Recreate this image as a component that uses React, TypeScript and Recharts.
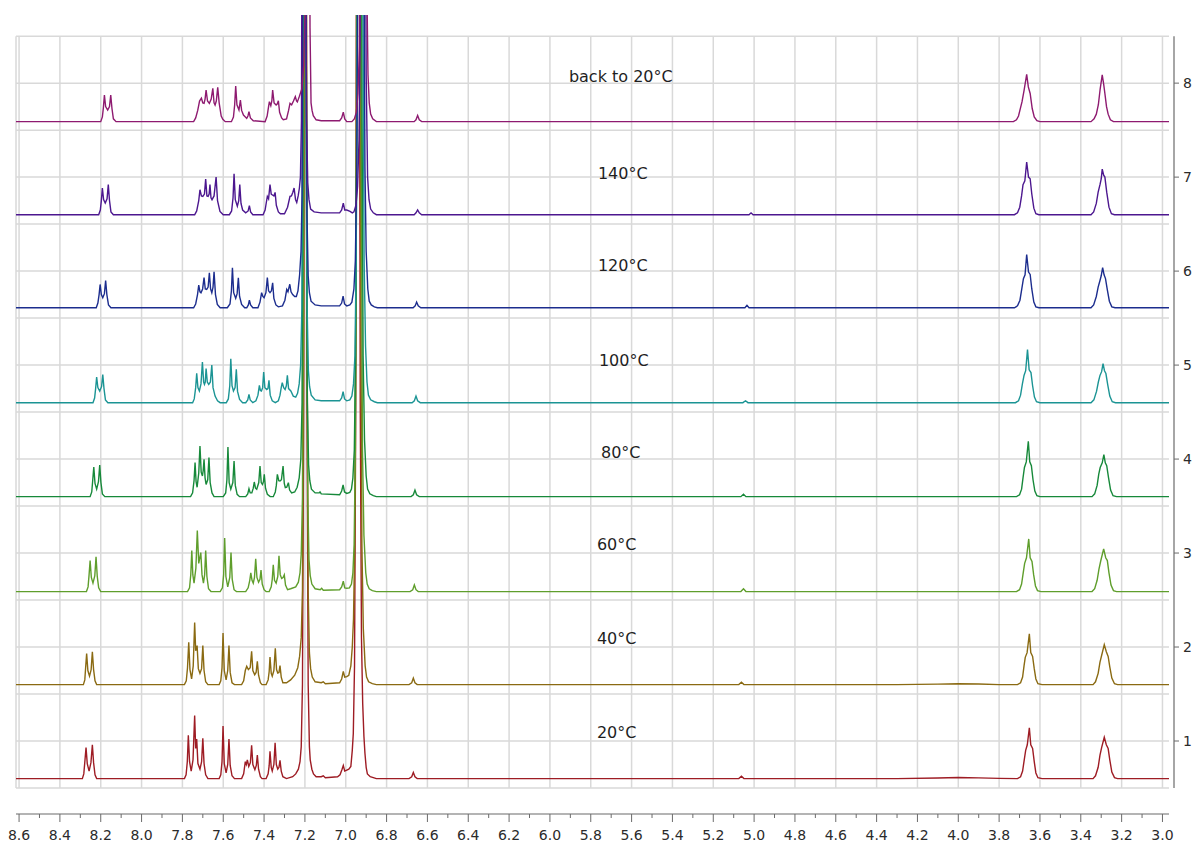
import React from 'react';
import { LineChart, Line, XAxis, YAxis, CartesianGrid, ReferenceLine, ReferenceDot } from 'recharts';

type Pt = [number, number];

// ---- tick labels ----
const xMajorTicks = [8.6, 8.4, 8.2, 8.0, 7.8, 7.6, 7.4, 7.2, 7.0, 6.8, 6.6, 6.4, 6.2, 6.0, 5.8, 5.6, 5.4, 5.2, 5.0, 4.8, 4.6, 4.4, 4.2, 4.0, 3.8, 3.6, 3.4, 3.2, 3.0];
const xMinorTicks = [8.5, 8.3, 8.1, 7.9, 7.7, 7.5, 7.3, 7.1, 6.9, 6.7, 6.5, 6.3, 6.1, 5.9, 5.7, 5.5, 5.3, 5.1, 4.9, 4.7, 4.5, 4.3, 4.1, 3.9, 3.7, 3.5, 3.3, 3.1];
const yTicks = [1, 2, 3, 4, 5, 6, 7, 8];
const gridLevels = [0.5, 1, 1.5, 2, 2.5, 3, 3.5, 4, 4.5, 5, 5.5, 6, 6.5, 7, 7.5, 8, 8.5];

// ---- series meta ----
const spectrumNames = ['20°C', '40°C', '60°C', '80°C', '100°C', '120°C', '140°C', 'back to 20°C'];
const baselineOffsets = [0.6, 1.6, 2.59, 3.6, 4.6, 5.61, 6.6, 7.59];
const lineColors = ['#9e1c24', '#8a6a12', '#5f9e2c', '#17893a', '#1b9494', '#1c2d8e', '#4c178f', '#8e1a70'];
const labelPpm = [5.77, 5.77, 5.77, 5.75, 5.76, 5.765, 5.765, 5.907];
const labelLevel = [1.1, 2.1, 3.1, 4.07, 5.05, 6.07, 7.04, 8.074];

// ---- spectra: [ppm, intensity above baseline] ----
const spec20: Pt[] = [
  [8.615, 0], [8.29, 0], [8.283, 0.05], [8.277, 0.2], [8.272, 0.33], [8.266, 0.16], [8.257, 0.08], [8.248, 0.17], [8.241, 0.36], [8.235, 0.17], [8.228, 0.04], [8.22, 0],
  [7.79, 0], [7.782, 0.04], [7.776, 0.18], [7.771, 0.46], [7.765, 0.18], [7.757, 0.08], [7.748, 0.2], [7.74, 0.67], [7.735, 0.32], [7.73, 0.42], [7.724, 0.16], [7.714, 0.1], [7.706, 0.18], [7.7, 0.43], [7.694, 0.16], [7.686, 0.04], [7.675, 0],
  [7.62, 0], [7.612, 0.04], [7.606, 0.18], [7.601, 0.56], [7.595, 0.16], [7.586, 0.06], [7.578, 0.15], [7.572, 0.42], [7.566, 0.14], [7.557, 0.03], [7.545, 0],
  [7.51, 0], [7.5, 0.05], [7.492, 0.18], [7.487, 0.15], [7.482, 0.2], [7.475, 0.13], [7.467, 0.17], [7.461, 0.355], [7.455, 0.15], [7.445, 0.095], [7.438, 0.14], [7.433, 0.25], [7.427, 0.1], [7.418, 0.02], [7.41, 0],
  [7.39, 0], [7.38, 0.05], [7.375, 0.14], [7.371, 0.29], [7.365, 0.12], [7.36, 0.08], [7.352, 0.15], [7.346, 0.38], [7.34, 0.15], [7.333, 0.1], [7.327, 0.12], [7.322, 0.195], [7.316, 0.08], [7.308, 0.02], [7.29, 0],
  [7.26, 0.02], [7.245, 0.05], [7.232, 0.1], [7.224, 0.18], [7.218, 0.34], [7.212, 1.0], [7.206, 4], [7.201, 12], [7.195, 12], [7.19, 4], [7.184, 1.0], [7.178, 0.34], [7.174, 0.2], [7.166, 0.1], [7.158, 0.05], [7.145, 0.02], [7.12, 0.02], [7.11, 0.03], [7.1, 0.01],
  [7.04, 0.02], [7.028, 0.04], [7.018, 0.1], [7.012, 0.14], [7.005, 0.08], [6.995, 0.09], [6.985, 0.1], [6.975, 0.13], [6.968, 0.3], [6.963, 0.48], [6.957, 1.2], [6.951, 4], [6.946, 10], [6.94, 13], [6.934, 10], [6.929, 4], [6.923, 1.5], [6.917, 0.8], [6.911, 0.45], [6.906, 0.27], [6.9, 0.12], [6.894, 0.05], [6.88, 0.02], [6.85, 0],
  [6.69, 0], [6.677, 0.02], [6.669, 0.065], [6.661, 0.02], [6.65, 0],
  [5.075, 0], [5.062, 0.025], [5.05, 0],
  [4.3, 0], [4.1, 0.006], [4.0, 0.012], [3.9, 0.008], [3.8, 0.002],
  [3.71, 0], [3.695, 0.02], [3.685, 0.08], [3.677, 0.2], [3.67, 0.3], [3.662, 0.36], [3.652, 0.54], [3.645, 0.36], [3.636, 0.32], [3.628, 0.18], [3.62, 0.06], [3.61, 0.01], [3.59, 0],
  [3.34, 0], [3.328, 0.03], [3.315, 0.12], [3.306, 0.25], [3.298, 0.33], [3.285, 0.44], [3.275, 0.36], [3.266, 0.32], [3.258, 0.2], [3.248, 0.07], [3.235, 0.01], [3.22, 0], [2.968, 0],
];

const spec40: Pt[] = [
  [8.615, 0], [8.285, 0], [8.278, 0.05], [8.274, 0.18], [8.269, 0.33], [8.263, 0.15], [8.255, 0.09], [8.247, 0.16], [8.241, 0.35], [8.235, 0.16], [8.228, 0.04], [8.22, 0],
  [7.79, 0], [7.781, 0.04], [7.775, 0.18], [7.769, 0.45], [7.763, 0.16], [7.755, 0.06], [7.747, 0.2], [7.74, 0.66], [7.735, 0.36], [7.728, 0.415], [7.722, 0.17], [7.714, 0.12], [7.706, 0.17], [7.7, 0.415], [7.694, 0.15], [7.686, 0.03], [7.675, 0],
  [7.62, 0], [7.612, 0.04], [7.606, 0.18], [7.601, 0.55], [7.595, 0.15], [7.586, 0.05], [7.578, 0.15], [7.572, 0.415], [7.566, 0.13], [7.557, 0.02], [7.545, 0],
  [7.51, 0], [7.5, 0.04], [7.492, 0.15], [7.485, 0.195], [7.477, 0.16], [7.468, 0.18], [7.461, 0.354], [7.455, 0.15], [7.446, 0.106], [7.439, 0.13], [7.433, 0.248], [7.427, 0.1], [7.418, 0.02], [7.41, 0],
  [7.39, 0], [7.38, 0.05], [7.375, 0.14], [7.371, 0.294], [7.365, 0.12], [7.36, 0.09], [7.352, 0.15], [7.345, 0.386], [7.339, 0.16], [7.333, 0.124], [7.327, 0.13], [7.322, 0.202], [7.316, 0.08], [7.308, 0.02], [7.29, 0.02],
  [7.27, 0.05], [7.25, 0.1], [7.235, 0.18], [7.226, 0.3], [7.218, 0.5], [7.212, 1.0], [7.206, 4], [7.201, 12], [7.195, 12], [7.19, 4], [7.184, 1.0], [7.178, 0.34], [7.172, 0.17], [7.164, 0.08], [7.15, 0.03], [7.12, 0.02], [7.11, 0.03], [7.1, 0.01],
  [7.03, 0.02], [7.02, 0.06], [7.012, 0.14], [7.005, 0.08], [6.995, 0.085], [6.985, 0.1], [6.975, 0.2], [6.968, 0.4], [6.962, 0.7], [6.956, 1.5], [6.951, 4], [6.945, 10], [6.938, 13], [6.931, 10], [6.926, 4], [6.921, 1.5], [6.914, 0.6], [6.905, 0.2], [6.898, 0.08], [6.888, 0.03], [6.87, 0.01], [6.85, 0],
  [6.69, 0], [6.677, 0.02], [6.669, 0.07], [6.661, 0.02], [6.65, 0],
  [5.075, 0], [5.062, 0.025], [5.05, 0],
  [4.3, 0], [4.1, 0.005], [4.0, 0.01], [3.9, 0.006], [3.8, 0],
  [3.71, 0], [3.695, 0.02], [3.685, 0.08], [3.678, 0.2], [3.672, 0.29], [3.663, 0.34], [3.652, 0.54], [3.645, 0.34], [3.636, 0.3], [3.628, 0.17], [3.62, 0.06], [3.61, 0.01], [3.59, 0],
  [3.34, 0], [3.328, 0.03], [3.315, 0.12], [3.306, 0.24], [3.298, 0.31], [3.285, 0.425], [3.275, 0.35], [3.266, 0.3], [3.258, 0.19], [3.248, 0.07], [3.235, 0.01], [3.22, 0], [2.968, 0],
];

const spec60: Pt[] = [
  [8.615, 0], [8.27, 0], [8.262, 0.05], [8.257, 0.18], [8.252, 0.33], [8.246, 0.15], [8.238, 0.09], [8.229, 0.17], [8.223, 0.37], [8.217, 0.16], [8.21, 0.04], [8.2, 0],
  [7.775, 0], [7.765, 0.04], [7.759, 0.18], [7.754, 0.436], [7.749, 0.18], [7.743, 0.09], [7.734, 0.25], [7.727, 0.65], [7.72, 0.3], [7.71, 0.415], [7.704, 0.18], [7.697, 0.09], [7.691, 0.18], [7.686, 0.436], [7.68, 0.16], [7.672, 0.03], [7.66, 0],
  [7.615, 0], [7.604, 0.04], [7.598, 0.18], [7.593, 0.57], [7.587, 0.16], [7.578, 0.05], [7.568, 0.15], [7.562, 0.415], [7.556, 0.13], [7.547, 0.02], [7.535, 0],
  [7.49, 0], [7.478, 0.04], [7.47, 0.12], [7.465, 0.2], [7.459, 0.12], [7.453, 0.09], [7.447, 0.15], [7.441, 0.348], [7.435, 0.15], [7.427, 0.1], [7.42, 0.13], [7.415, 0.23], [7.409, 0.08], [7.4, 0.02], [7.39, 0],
  [7.375, 0], [7.365, 0.05], [7.36, 0.13], [7.355, 0.284], [7.349, 0.12], [7.341, 0.09], [7.333, 0.16], [7.327, 0.38], [7.321, 0.18], [7.314, 0.14], [7.307, 0.15], [7.301, 0.178], [7.295, 0.07], [7.285, 0.02], [7.27, 0.03],
  [7.245, 0.05], [7.232, 0.1], [7.224, 0.2], [7.218, 0.4], [7.212, 1.0], [7.207, 4], [7.203, 12], [7.197, 12], [7.192, 4], [7.186, 1.0], [7.18, 0.34], [7.174, 0.17], [7.166, 0.08], [7.15, 0.03], [7.125, 0.02], [7.118, 0.035], [7.11, 0.015],
  [7.03, 0.02], [7.02, 0.05], [7.012, 0.11], [7.005, 0.04], [6.995, 0.035], [6.982, 0.04], [6.972, 0.08], [6.965, 0.2], [6.959, 0.5], [6.953, 1.5], [6.948, 4], [6.942, 10], [6.935, 13], [6.928, 10], [6.923, 4], [6.918, 1.5], [6.911, 0.6], [6.902, 0.2], [6.895, 0.08], [6.885, 0.03], [6.87, 0.01], [6.85, 0],
  [6.685, 0], [6.672, 0.02], [6.664, 0.07], [6.656, 0.02], [6.645, 0],
  [5.065, 0], [5.052, 0.03], [5.04, 0],
  [3.715, 0], [3.7, 0.02], [3.69, 0.08], [3.682, 0.2], [3.675, 0.3], [3.666, 0.36], [3.655, 0.56], [3.648, 0.36], [3.639, 0.32], [3.631, 0.18], [3.622, 0.06], [3.612, 0.01], [3.595, 0],
  [3.345, 0], [3.332, 0.03], [3.32, 0.12], [3.311, 0.24], [3.303, 0.32], [3.288, 0.454], [3.278, 0.36], [3.27, 0.33], [3.262, 0.2], [3.252, 0.07], [3.24, 0.01], [3.225, 0], [2.968, 0],
];

const spec80: Pt[] = [
  [8.615, 0], [8.252, 0], [8.244, 0.05], [8.239, 0.18], [8.234, 0.315], [8.228, 0.14], [8.22, 0.08], [8.211, 0.16], [8.205, 0.336], [8.199, 0.15], [8.192, 0.03], [8.18, 0],
  [7.76, 0], [7.75, 0.04], [7.743, 0.17], [7.738, 0.362], [7.733, 0.16], [7.728, 0.1], [7.72, 0.25], [7.714, 0.538], [7.708, 0.26], [7.702, 0.22], [7.698, 0.28], [7.694, 0.397], [7.689, 0.2], [7.684, 0.13], [7.676, 0.18], [7.67, 0.415], [7.664, 0.15], [7.655, 0.04], [7.645, 0],
  [7.6, 0], [7.588, 0.04], [7.582, 0.18], [7.577, 0.528], [7.571, 0.15], [7.563, 0.08], [7.553, 0.15], [7.547, 0.379], [7.541, 0.12], [7.532, 0.025], [7.52, 0],
  [7.49, 0], [7.48, 0.03], [7.474, 0.085], [7.468, 0.04], [7.46, 0.04], [7.453, 0.09], [7.448, 0.156], [7.442, 0.09], [7.436, 0.078], [7.426, 0.15], [7.42, 0.326], [7.414, 0.15], [7.408, 0.13], [7.403, 0.16], [7.399, 0.237], [7.393, 0.09], [7.384, 0.025], [7.37, 0],
  [7.355, 0], [7.345, 0.05], [7.34, 0.12], [7.335, 0.237], [7.328, 0.17], [7.322, 0.167], [7.315, 0.18], [7.307, 0.326], [7.301, 0.14], [7.296, 0.096], [7.289, 0.1], [7.281, 0.149], [7.275, 0.07], [7.265, 0.04], [7.25, 0.05],
  [7.238, 0.1], [7.228, 0.2], [7.22, 0.4], [7.214, 1.0], [7.209, 4], [7.205, 12], [7.199, 12], [7.194, 4], [7.188, 1.0], [7.182, 0.34], [7.176, 0.17], [7.168, 0.08], [7.15, 0.04], [7.13, 0.04], [7.126, 0.05], [7.12, 0.03],
  [7.03, 0.02], [7.02, 0.06], [7.013, 0.124], [7.006, 0.05], [6.995, 0.035], [6.98, 0.045], [6.972, 0.08], [6.965, 0.2], [6.958, 0.5], [6.952, 1.5], [6.946, 4], [6.94, 10], [6.932, 13], [6.925, 10], [6.92, 4], [6.915, 1.5], [6.908, 0.6], [6.9, 0.22], [6.893, 0.08], [6.882, 0.03], [6.865, 0.01], [6.85, 0],
  [6.68, 0], [6.669, 0.02], [6.661, 0.07], [6.653, 0.02], [6.64, 0],
  [5.065, 0], [5.052, 0.025], [5.04, 0],
  [3.715, 0], [3.7, 0.02], [3.69, 0.08], [3.683, 0.2], [3.676, 0.31], [3.667, 0.37], [3.657, 0.59], [3.65, 0.37], [3.642, 0.33], [3.634, 0.18], [3.625, 0.06], [3.615, 0.01], [3.6, 0],
  [3.345, 0], [3.332, 0.03], [3.32, 0.12], [3.312, 0.24], [3.305, 0.31], [3.295, 0.36], [3.287, 0.447], [3.28, 0.36], [3.273, 0.33], [3.264, 0.2], [3.254, 0.07], [3.242, 0.01], [3.225, 0], [2.968, 0],
];

const spec100: Pt[] = [
  [8.615, 0], [8.238, 0], [8.23, 0.05], [8.225, 0.15], [8.22, 0.273], [8.214, 0.16], [8.205, 0.124], [8.196, 0.17], [8.19, 0.3], [8.184, 0.15], [8.177, 0.03], [8.165, 0],
  [7.75, 0], [7.742, 0.04], [7.735, 0.16], [7.73, 0.312], [7.724, 0.16], [7.717, 0.124], [7.709, 0.2], [7.702, 0.432], [7.696, 0.22], [7.692, 0.195], [7.688, 0.22], [7.684, 0.362], [7.678, 0.22], [7.671, 0.195], [7.663, 0.22], [7.656, 0.4], [7.65, 0.16], [7.64, 0.07], [7.628, 0.02], [7.615, 0],
  [7.585, 0], [7.575, 0.04], [7.568, 0.18], [7.563, 0.468], [7.557, 0.18], [7.55, 0.124], [7.542, 0.16], [7.536, 0.354], [7.53, 0.12], [7.52, 0.035], [7.505, 0],
  [7.49, 0], [7.48, 0.03], [7.474, 0.088], [7.468, 0.03], [7.455, 0],
  [7.44, 0.02], [7.43, 0.08], [7.423, 0.184], [7.418, 0.13], [7.413, 0.124], [7.407, 0.16], [7.402, 0.326], [7.396, 0.16], [7.387, 0.14], [7.381, 0.15], [7.376, 0.237], [7.37, 0.08], [7.36, 0.02], [7.345, 0],
  [7.33, 0.02], [7.322, 0.08], [7.316, 0.16], [7.311, 0.213], [7.304, 0.16], [7.297, 0.14], [7.291, 0.18], [7.286, 0.29], [7.28, 0.15], [7.269, 0.124], [7.257, 0.07], [7.245, 0.06],
  [7.236, 0.1], [7.228, 0.2], [7.221, 0.4], [7.215, 1.0], [7.21, 4], [7.206, 12], [7.2, 12], [7.195, 4], [7.189, 1.0], [7.183, 0.34], [7.177, 0.17], [7.169, 0.08], [7.15, 0.03], [7.12, 0.02],
  [7.03, 0.02], [7.02, 0.05], [7.013, 0.117], [7.006, 0.04], [6.995, 0.02], [6.98, 0.03], [6.97, 0.07], [6.962, 0.2], [6.955, 0.5], [6.949, 1.5], [6.943, 4], [6.937, 10], [6.928, 13], [6.92, 10], [6.915, 4], [6.91, 1.5], [6.903, 0.6], [6.896, 0.22], [6.889, 0.08], [6.878, 0.03], [6.86, 0.01], [6.845, 0],
  [6.675, 0], [6.664, 0.02], [6.656, 0.07], [6.648, 0.02], [6.635, 0],
  [5.055, 0], [5.042, 0.02], [5.03, 0],
  [3.72, 0], [3.705, 0.02], [3.695, 0.08], [3.686, 0.2], [3.678, 0.29], [3.67, 0.34], [3.661, 0.564], [3.653, 0.35], [3.644, 0.32], [3.636, 0.18], [3.627, 0.06], [3.617, 0.01], [3.6, 0],
  [3.35, 0], [3.336, 0.03], [3.323, 0.12], [3.314, 0.22], [3.306, 0.29], [3.298, 0.33], [3.291, 0.415], [3.284, 0.34], [3.277, 0.31], [3.268, 0.19], [3.258, 0.07], [3.246, 0.01], [3.23, 0], [2.968, 0],
];

const spec120: Pt[] = [
  [8.615, 0], [8.222, 0], [8.214, 0.05], [8.208, 0.14], [8.203, 0.248], [8.197, 0.14], [8.19, 0.106], [8.182, 0.15], [8.176, 0.29], [8.17, 0.14], [8.162, 0.03], [8.15, 0],
  [7.745, 0], [7.735, 0.04], [7.726, 0.14], [7.72, 0.24], [7.714, 0.17], [7.709, 0.16], [7.701, 0.2], [7.694, 0.32], [7.688, 0.2], [7.681, 0.195], [7.674, 0.22], [7.668, 0.372], [7.662, 0.2], [7.656, 0.16], [7.65, 0.22], [7.645, 0.383], [7.638, 0.14], [7.629, 0.035], [7.615, 0],
  [7.58, 0], [7.567, 0.04], [7.56, 0.18], [7.555, 0.426], [7.549, 0.16], [7.539, 0.1], [7.532, 0.15], [7.526, 0.32], [7.52, 0.12], [7.51, 0.035], [7.495, 0],
  [7.485, 0], [7.477, 0.03], [7.472, 0.08], [7.466, 0.03], [7.455, 0],
  [7.43, 0], [7.42, 0.06], [7.412, 0.16], [7.406, 0.12], [7.4, 0.106], [7.391, 0.16], [7.384, 0.32], [7.378, 0.18], [7.371, 0.16], [7.364, 0.18], [7.358, 0.266], [7.352, 0.1], [7.342, 0.03], [7.33, 0.01],
  [7.31, 0.02], [7.298, 0.08], [7.289, 0.195], [7.283, 0.17], [7.274, 0.25], [7.268, 0.17], [7.26, 0.14], [7.25, 0.12], [7.242, 0.12],
  [7.234, 0.18], [7.226, 0.35], [7.219, 0.6], [7.214, 1.2], [7.21, 4], [7.207, 12], [7.201, 12], [7.196, 4], [7.19, 1.0], [7.184, 0.34], [7.178, 0.16], [7.17, 0.07], [7.15, 0.03], [7.12, 0.02],
  [7.03, 0.02], [7.02, 0.05], [7.013, 0.124], [7.006, 0.04], [6.995, 0.02], [6.98, 0.03], [6.97, 0.06], [6.96, 0.2], [6.953, 0.5], [6.946, 1.5], [6.94, 4], [6.933, 10], [6.924, 13], [6.916, 10], [6.911, 4], [6.906, 1.5], [6.9, 0.6], [6.892, 0.2], [6.885, 0.07], [6.875, 0.03], [6.86, 0.01], [6.845, 0],
  [6.67, 0], [6.66, 0.02], [6.653, 0.06], [6.645, 0.02], [6.632, 0],
  [5.045, 0], [5.035, 0.025], [5.025, 0],
  [3.725, 0], [3.71, 0.02], [3.698, 0.08], [3.689, 0.2], [3.681, 0.31], [3.673, 0.35], [3.665, 0.567], [3.656, 0.38], [3.648, 0.354], [3.64, 0.2], [3.63, 0.06], [3.62, 0.01], [3.605, 0],
  [3.35, 0], [3.337, 0.03], [3.324, 0.12], [3.315, 0.22], [3.306, 0.29], [3.3, 0.34], [3.293, 0.426], [3.286, 0.35], [3.279, 0.31], [3.27, 0.19], [3.26, 0.07], [3.248, 0.01], [3.232, 0], [2.968, 0],
];

const spec140: Pt[] = [
  [8.615, 0], [8.21, 0], [8.202, 0.05], [8.197, 0.15], [8.192, 0.284], [8.186, 0.16], [8.178, 0.124], [8.169, 0.17], [8.163, 0.32], [8.157, 0.15], [8.15, 0.03], [8.138, 0],
  [7.74, 0], [7.73, 0.04], [7.72, 0.15], [7.714, 0.266], [7.707, 0.2], [7.7, 0.195], [7.692, 0.22], [7.686, 0.38], [7.68, 0.2], [7.674, 0.195], [7.669, 0.22], [7.665, 0.32], [7.66, 0.18], [7.655, 0.16], [7.645, 0.2], [7.635, 0.4], [7.628, 0.15], [7.616, 0.035], [7.6, 0],
  [7.57, 0], [7.559, 0.04], [7.552, 0.18], [7.547, 0.436], [7.541, 0.16], [7.531, 0.09], [7.524, 0.15], [7.519, 0.32], [7.513, 0.12], [7.505, 0.05], [7.49, 0.02],
  [7.478, 0.04], [7.472, 0.096], [7.466, 0.03], [7.455, 0],
  [7.405, 0], [7.395, 0.05], [7.389, 0.13], [7.384, 0.195], [7.378, 0.17], [7.371, 0.32], [7.365, 0.22], [7.359, 0.21], [7.352, 0.2], [7.346, 0.237], [7.34, 0.1], [7.33, 0.03], [7.32, 0.01],
  [7.3, 0.01], [7.285, 0.08], [7.273, 0.195], [7.266, 0.2], [7.259, 0.24], [7.253, 0.284], [7.246, 0.16], [7.24, 0.13], [7.233, 0.2], [7.227, 0.284], [7.222, 0.4], [7.217, 1.0], [7.213, 4], [7.209, 12], [7.203, 12], [7.198, 4], [7.192, 1.0], [7.186, 0.34], [7.18, 0.16], [7.172, 0.06], [7.155, 0.03], [7.12, 0.02],
  [7.03, 0.02], [7.02, 0.05], [7.012, 0.124], [7.005, 0.05], [6.995, 0.05], [6.979, 0.035], [6.968, 0.02], [6.96, 0.03], [6.95, 0.1], [6.942, 0.3], [6.935, 0.8], [6.929, 2], [6.924, 5], [6.919, 12], [6.911, 12], [6.906, 5], [6.9, 1.5], [6.893, 0.4], [6.886, 0.16], [6.878, 0.06], [6.865, 0.02], [6.85, 0],
  [6.665, 0], [6.656, 0.02], [6.648, 0.05], [6.64, 0.02], [6.628, 0],
  [5.025, 0], [5.015, 0.02], [5.005, 0],
  [3.725, 0], [3.71, 0.02], [3.699, 0.08], [3.69, 0.2], [3.683, 0.32], [3.674, 0.36], [3.665, 0.56], [3.656, 0.4], [3.648, 0.383], [3.64, 0.22], [3.63, 0.07], [3.62, 0.01], [3.605, 0],
  [3.35, 0], [3.337, 0.03], [3.324, 0.12], [3.315, 0.24], [3.306, 0.32], [3.3, 0.38], [3.295, 0.485], [3.288, 0.42], [3.282, 0.4], [3.273, 0.24], [3.262, 0.08], [3.25, 0.01], [3.235, 0], [2.968, 0],
];

const specBack: Pt[] = [
  [8.615, 0], [8.2, 0], [8.192, 0.05], [8.187, 0.15], [8.182, 0.284], [8.176, 0.16], [8.166, 0.124], [8.157, 0.16], [8.151, 0.284], [8.145, 0.14], [8.138, 0.03], [8.125, 0],
  [7.745, 0], [7.735, 0.04], [7.725, 0.12], [7.716, 0.22], [7.707, 0.25], [7.7, 0.2], [7.694, 0.195], [7.689, 0.24], [7.684, 0.337], [7.677, 0.22], [7.668, 0.195], [7.659, 0.24], [7.651, 0.355], [7.645, 0.2], [7.64, 0.177], [7.634, 0.22], [7.627, 0.365], [7.62, 0.2], [7.61, 0.06], [7.602, 0.025], [7.59, 0],
  [7.56, 0], [7.55, 0.05], [7.544, 0.18], [7.539, 0.38], [7.533, 0.18], [7.523, 0.124], [7.516, 0.23], [7.51, 0.12], [7.501, 0.07], [7.485, 0.035], [7.479, 0.06], [7.474, 0.106], [7.467, 0.04], [7.453, 0.01],
  [7.395, 0], [7.385, 0.06], [7.378, 0.16], [7.374, 0.213], [7.367, 0.17], [7.362, 0.22], [7.358, 0.337], [7.351, 0.2], [7.341, 0.177], [7.335, 0.19], [7.33, 0.223], [7.324, 0.1], [7.314, 0.04], [7.306, 0.02],
  [7.29, 0.03], [7.28, 0.12], [7.273, 0.195], [7.265, 0.18], [7.256, 0.22], [7.247, 0.266], [7.241, 0.22], [7.237, 0.21], [7.232, 0.24], [7.227, 0.27],
  [7.215, 0.35], [7.206, 0.6], [7.199, 1.2], [7.194, 4], [7.19, 12], [7.184, 12], [7.18, 4], [7.175, 1.0], [7.17, 0.2], [7.165, 0.12], [7.159, 0.064], [7.145, 0.02], [7.12, 0.01],
  [7.03, 0.01], [7.02, 0.04], [7.012, 0.1], [7.005, 0.03], [6.995, 0], [6.97, 0],
  [6.958, 0.03], [6.948, 0.1], [6.94, 0.3], [6.933, 0.8], [6.927, 2], [6.922, 5], [6.916, 12], [6.908, 12], [6.903, 5], [6.897, 1.5], [6.891, 0.5], [6.885, 0.2], [6.878, 0.08], [6.868, 0.03], [6.85, 0],
  [6.665, 0], [6.656, 0.02], [6.648, 0.065], [6.64, 0.02], [6.628, 0],
  [3.73, 0], [3.715, 0.02], [3.705, 0.06], [3.695, 0.15], [3.688, 0.21], [3.678, 0.33], [3.665, 0.503], [3.657, 0.37], [3.648, 0.3], [3.638, 0.14], [3.628, 0.05], [3.615, 0.01], [3.6, 0],
  [3.35, 0], [3.335, 0.03], [3.324, 0.08], [3.314, 0.18], [3.305, 0.35], [3.295, 0.497], [3.288, 0.4], [3.282, 0.3], [3.274, 0.16], [3.266, 0.08], [3.255, 0.02], [3.24, 0], [2.968, 0],
];

const spectra: Pt[][] = [spec20, spec40, spec60, spec80, spec100, spec120, spec140, specBack];

const series = spectra.map((spec, i) => spec.map(([x, v]) => ({ x, y: v + baselineOffsets[i] })));
const xTicks = [...xMajorTicks, ...xMinorTicks].sort((a, b) => b - a);

const FONT = '"DejaVu Sans", Verdana, sans-serif';
const AXIS_COLOR = '#6b6b6b';
const GRID_COLOR = '#d9d9d9';

// domain limits of the drawing area
const X_LEFT = 8.615;
const X_RIGHT = 2.968;
const Y_BOTTOM = 0.5;
const Y_FRAME_TOP = 8.5;
const Y_CLIP_TOP = 8.725;
const X_AXIS_LEVEL = 0.2235; // axis drawn below plot frame
const Y_AXIS_PPM = 2.9435; // axis drawn right of plot frame

const renderXTick = (props: any) => {
  const { x, y, payload } = props;
  const major = xMajorTicks.includes(payload.value);
  return (
    <g>
      <line x1={x} x2={x} y1={y + 26} y2={y + (major ? 34 : 30)} stroke={AXIS_COLOR} strokeWidth={1} />
      {major && (
        <text x={x} y={y + 52} textAnchor="middle" fontFamily={FONT} fontSize={14} fill="#2b2b2b">
          {Number(payload.value).toFixed(1)}
        </text>
      )}
    </g>
  );
};

const renderYTick = (props: any) => {
  const { x, y, payload } = props;
  return (
    <g>
      <line x1={x + 5} x2={x + 10} y1={y} y2={y} stroke={AXIS_COLOR} strokeWidth={1} />
      <text x={x + 14} y={y + 5} textAnchor="start" fontFamily={FONT} fontSize={14} fill="#2b2b2b">
        {payload.value}
      </text>
    </g>
  );
};

export default function App() {
  return (
    <div style={{ position: 'absolute', left: 0, top: 0, width: 1195, height: 846, background: '#fff' }}>
      <LineChart width={1195} height={846} margin={{ top: 15, right: 0, bottom: 0, left: 16 }}>
        <CartesianGrid vertical={false} horizontalValues={gridLevels} stroke={GRID_COLOR} strokeWidth={1.5} />
        <XAxis
          type="number"
          dataKey="x"
          domain={[X_RIGHT, X_LEFT]}
          reversed
          allowDataOverflow
          ticks={xTicks}
          interval={0}
          tick={renderXTick}
          tickLine={false}
          axisLine={false}
          tickSize={0}
          tickMargin={0}
          height={58}
        />
        <YAxis
          type="number"
          orientation="right"
          domain={[Y_BOTTOM, Y_CLIP_TOP]}
          allowDataOverflow
          ticks={yTicks}
          interval={0}
          tick={renderYTick}
          tickLine={false}
          axisLine={false}
          tickSize={0}
          tickMargin={0}
          width={26}
        />
        {[X_LEFT, ...xMajorTicks].map((v) => (
          <ReferenceLine
            key={'vg' + v}
            segment={[{ x: v, y: Y_BOTTOM }, { x: v, y: Y_FRAME_TOP }]}
            stroke={GRID_COLOR}
            strokeWidth={1.5}
            ifOverflow="visible"
          />
        ))}
        <ReferenceLine
          segment={[{ x: X_LEFT, y: X_AXIS_LEVEL }, { x: X_RIGHT, y: X_AXIS_LEVEL }]}
          stroke={AXIS_COLOR}
          strokeWidth={1.2}
          ifOverflow="visible"
        />
        <ReferenceLine
          segment={[{ x: Y_AXIS_PPM, y: Y_BOTTOM }, { x: Y_AXIS_PPM, y: Y_FRAME_TOP }]}
          stroke={AXIS_COLOR}
          strokeWidth={1.2}
          ifOverflow="visible"
        />
        {series.map((data, i) => (
          <Line
            key={spectrumNames[i]}
            data={data}
            dataKey="y"
            type="linear"
            stroke={lineColors[i]}
            strokeWidth={1.4}
            dot={false}
            activeDot={false}
            isAnimationActive={false}
          />
        ))}
        {spectrumNames.map((name, i) => (
          <ReferenceDot
            key={'lbl' + i}
            x={labelPpm[i]}
            y={labelLevel[i]}
            r={0}
            ifOverflow="visible"
            shape={(p: any) => (
              <text x={p.cx} y={p.cy} dy={6} textAnchor="start" fontFamily={FONT} fontSize={16} fill="#1f1f1f">
                {name}
              </text>
            )}
          />
        ))}
      </LineChart>
    </div>
  );
}
